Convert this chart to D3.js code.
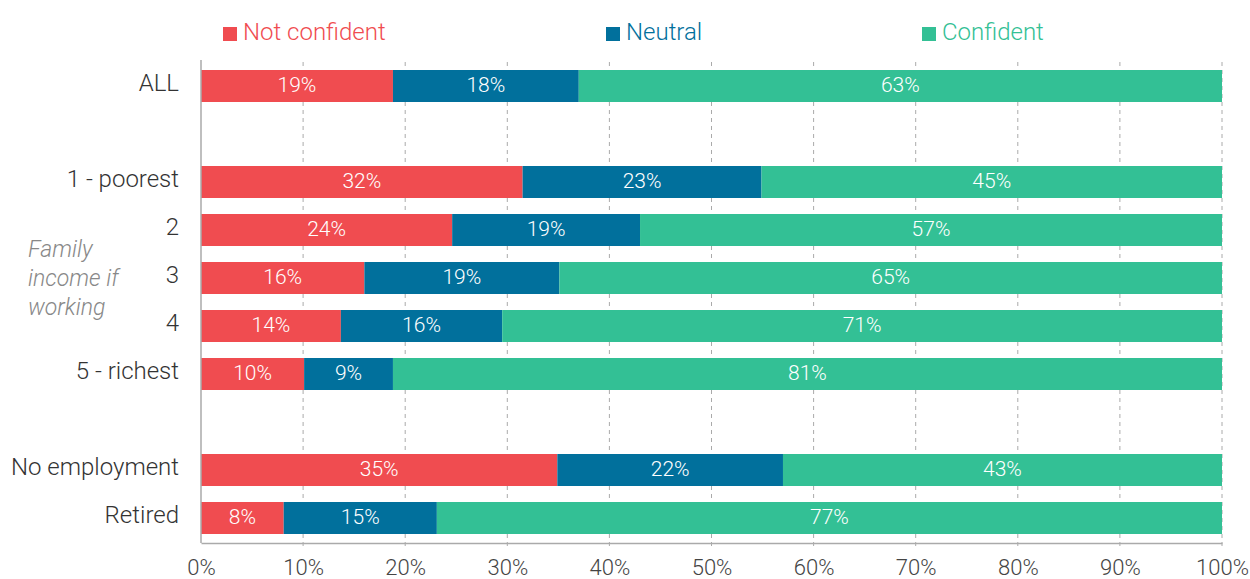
<!DOCTYPE html>
<html><head><meta charset="utf-8">
<script src="https://cdn.jsdelivr.net/npm/d3@7"></script>
<style>body{margin:0;background:#fff;} svg{display:block;font-family:Roboto,"Noto Sans",sans-serif;}</style>
</head><body><svg id="c" width="1250" height="579"></svg>
<script>
const slots = ["ALL","gap1","1 - poorest","2","3","4","5 - richest","gap2","No employment","Retired"];
const categories = ["ALL","1 - poorest","2","3","4","5 - richest","No employment","Retired"];
const notConfident = [18.8,31.5,24.6,16.0,13.7,10.1,34.9,8.1];
const neutral = [18.2,23.4,18.4,19.1,15.8,8.7,22.1,15.0];
const confident = [63.0,45.1,57.0,64.9,70.5,81.2,43.0,76.9];
const labelsNot = ["19%","32%","24%","16%","14%","10%","35%","8%"];
const labelsNeu = ["18%","23%","19%","19%","16%","9%","22%","15%"];
const labelsCon = ["63%","45%","57%","65%","71%","81%","43%","77%"];
const seriesNames = ["Not confident","Neutral","Confident"];
const colors = ["#F04C50","#01709C","#33C095"];
const xTicks = [0,10,20,30,40,50,60,70,80,90,100];

const svg = d3.select("#c");
const x = d3.scaleLinear().domain([0,100]).range([201,1222]);
const y = d3.scaleBand().domain(slots).range([62,542]).paddingInner(1/3).paddingOuter(1/6);

// grid
svg.append("g").selectAll("line").data(xTicks.slice(1)).join("line")
  .attr("x1",d=>x(d)).attr("x2",d=>x(d)).attr("y1",62).attr("y2",550)
  .attr("stroke","#aaa").attr("stroke-width",1).attr("stroke-dasharray","4,4");

const rows = categories.map((c,i)=>({c, vals:[notConfident[i],neutral[i],confident[i]], labs:[labelsNot[i],labelsNeu[i],labelsCon[i]]}));
const g = svg.append("g");
rows.forEach(r=>{
  let acc=0;
  r.vals.forEach((v,j)=>{
    const x0=x(acc), x1=x(acc+v);
    g.append("rect").attr("x",x0).attr("y",y(r.c)).attr("width",x1-x0).attr("height",y.bandwidth()).attr("fill",colors[j]);
    g.append("text").attr("x",(x0+x1)/2).attr("y",y(r.c)+y.bandwidth()/2-2).attr("dy","0.36em")
      .attr("text-anchor","middle").attr("fill","#fff").attr("font-size",21).attr("font-weight",300).text(r.labs[j]);
    acc+=v;
  });
});

// axes
const xa = svg.append("g").attr("transform","translate(0,543)").call(d3.axisBottom(x).tickValues(xTicks).tickFormat(d=>d+"%").tickSize(0).tickPadding(16));
xa.select(".domain").attr("stroke","#aaa").attr("stroke-width",1.5);
xa.selectAll("text").attr("font-size",22).attr("fill","#444").attr("font-weight",300).attr("font-family","Roboto,sans-serif");
const ya = svg.append("g").attr("transform","translate(201,0)").call(d3.axisLeft(y).tickValues(categories).tickSize(0).tickPadding(22));
ya.select(".domain").attr("stroke","#aaa").attr("stroke-width",1.5).attr("d","M0,60V543");
ya.selectAll("text").attr("font-size",24).attr("fill","#333").attr("font-weight",300).attr("font-family","Roboto,sans-serif").attr("dy","0.2em");

// group label
const gl = ["Family","income if","working"];
svg.append("g").selectAll("text").data(gl).join("text")
  .attr("x",28).attr("y",(d,i)=>257+i*29).attr("font-size",23).attr("font-style","italic").attr("font-weight",300)
  .attr("fill","#888").text(d=>d);

// legend
const legX = [223,606,922];
const lg = svg.append("g");
seriesNames.forEach((s,i)=>{
  lg.append("rect").attr("x",legX[i]).attr("y",27).attr("width",14).attr("height",14).attr("fill",colors[i]);
  lg.append("text").attr("x",legX[i]+20).attr("y",40).attr("font-size",24).attr("font-weight",300).attr("fill",colors[i]).text(s);
});
</script></body></html>
